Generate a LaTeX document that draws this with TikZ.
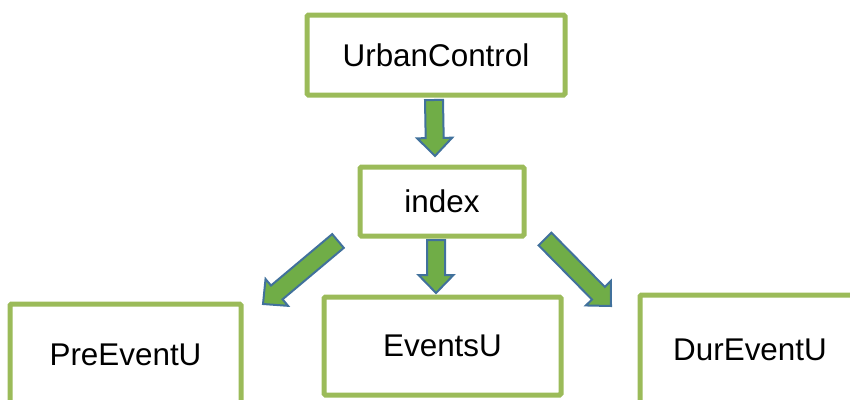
\documentclass[tikz,border=0pt]{standalone}
\usepackage{fontspec}
\setmainfont{Liberation Sans}
\usetikzlibrary{calc}
\definecolor{boxgreen}{HTML}{9BBB59}
\definecolor{arrfill}{HTML}{70AD47}
\definecolor{arrline}{HTML}{41719C}
\tikzset{
  gbox/.style={draw=boxgreen, line width=5pt, rounded corners=1.5pt, fill=white,
    inner sep=0pt, font=\fontsize{31.4}{36}\selectfont, text=black},
  barrow/.style={draw=arrline, fill=arrfill, line width=2pt, line join=miter}
}
\newcommand{\blockarr}[2]{%
  \coordinate (H) at ($(#2)!18pt!(#1)$);
  \draw[barrow] ($(#1)!9pt!90:(#2)$) -- ($(H)!9pt!90:(#2)$) -- ($(H)!17.5pt!90:(#2)$)
    -- (#2) -- ($(H)!17.5pt!-90:(#2)$) -- ($(H)!9pt!-90:(#2)$) -- ($(#1)!9pt!-90:(#2)$) -- cycle;}
\begin{document}
\begin{tikzpicture}[x=1pt,y=-1pt]
\useasboundingbox (0,0) rectangle (850,399);
\clip (0,0) rectangle (850,399);
\node[gbox, minimum width=258pt, minimum height=80pt] (urban) at (436,55) {UrbanControl};
\node[gbox, minimum width=164pt, minimum height=69pt] (index) at (442,201.5) {index};
\node[gbox, minimum width=231pt, minimum height=102pt] (pre) at (125.5,355) {PreEventU};
\node[gbox, minimum width=237pt, minimum height=98pt] (events) at (442.5,346) {EventsU};
\node[gbox, minimum width=220pt, minimum height=110pt] (dur) at (750,350) {DurEventU};
\coordinate (a1s) at (434,100);
\coordinate (a1t) at (435,156);
\coordinate (a2s) at (436,240);
\coordinate (a2t) at (436,293);
\coordinate (a3s) at (338,241);
\coordinate (a3t) at (263,304);
\coordinate (a4s) at (545,239);
\coordinate (a4t) at (611,306);
\blockarr{a1s}{a1t}
\blockarr{a2s}{a2t}
\blockarr{a3s}{a3t}
\blockarr{a4s}{a4t}
\end{tikzpicture}
\end{document}
